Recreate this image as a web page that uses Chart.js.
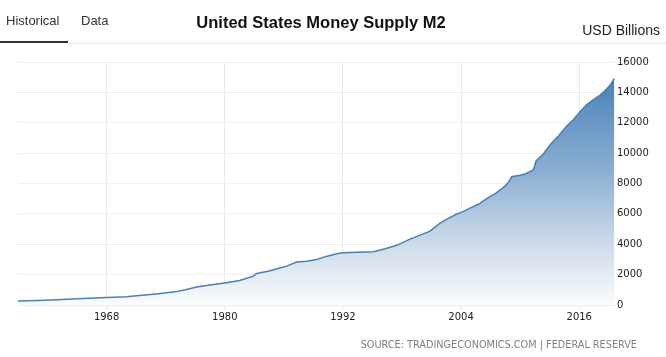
<!DOCTYPE html>
<html>
<head>
<meta charset="utf-8">
<script src="https://cdn.jsdelivr.net/npm/chart.js@4.4.1/dist/chart.umd.min.js"></script>
<style>
  html, body { margin: 0; padding: 0; background: #fff; }
  #wrap { position: relative; width: 666px; height: 357px; overflow: hidden; font-family: "Liberation Sans", Arial, sans-serif; }
  canvas { position: absolute; left: 0; top: 0; }
  .t { position: absolute; white-space: nowrap; }
</style>
</head>
<body>
<div id="wrap">
  <canvas id="c" width="666" height="357"></canvas>
  <div class="t" style="left:6px;top:13px;font-size:13px;line-height:16px;color:#333;">Historical</div>
  <div class="t" style="left:81px;top:13px;font-size:13px;line-height:16px;color:#333;">Data</div>
  <div style="position:absolute;left:0;top:41px;width:68px;height:2px;background:#333;"></div>
  <div style="position:absolute;left:68px;top:43px;width:598px;height:1px;background:#e3e3e3;"></div>
  <div class="t" style="left:0;width:642px;text-align:center;top:12px;font-size:16.5px;line-height:20px;font-weight:bold;color:#111;">United States Money Supply M2</div>
  <div class="t" style="right:6px;top:22px;font-size:14px;line-height:17px;color:#222;">USD Billions</div>
  <div class="t" style="right:29px;top:338px;font-size:10.8px;line-height:14px;color:#808080;font-family:'DejaVu Sans Condensed','DejaVu Sans',sans-serif;font-stretch:condensed;">SOURCE: TRADINGECONOMICS.COM | FEDERAL RESERVE</div>
</div>
<script>
// ---- data ----
const years = [1959.0, 1961.0, 1963.0, 1965.0, 1968.0, 1970.0, 1971.06, 1973.0, 1974.95, 1976.0,
  1977.15, 1978.5, 1980.0, 1981.5, 1982.9, 1983.24, 1984.5, 1985.5, 1986.29, 1987.3,
  1988.3, 1989.34, 1990.3, 1991.37, 1992.04, 1993.5, 1995.09, 1996.3, 1997.46, 1998.81,
  1999.83, 2000.8, 2001.86, 2002.7, 2003.56, 2004.2, 2004.91, 2005.8, 2006.6, 2007.5,
  2008.29, 2008.8, 2009.14, 2009.99, 2010.49, 2011.34, 2011.61, 2012.3, 2013.03, 2013.9,
  2014.73, 2015.4, 2016.08, 2016.76, 2017.4, 2018.11, 2018.6, 2019.13, 2019.56];
const m2Values = [265, 300, 350, 410, 500, 545, 605, 730, 865, 1000,
  1190, 1320, 1450, 1620, 1900, 2080, 2240, 2420, 2560, 2825,
  2880, 3000, 3200, 3380, 3445, 3470, 3510, 3700, 3930, 4340,
  4600, 4850, 5390, 5700, 5990, 6150, 6380, 6650, 7000, 7350,
  7730, 8060, 8450, 8540, 8630, 8890, 9480, 9900, 10530, 11150,
  11780, 12200, 12720, 13200, 13500, 13820, 14100, 14470, 14910];
const xTickYears = [1968, 1980, 1992, 2004, 2016];
const yTickValues = [0, 2000, 4000, 6000, 8000, 10000, 12000, 14000, 16000];

const points = years.map((y, i) => ({ x: y, y: m2Values[i] }));

function areaGradient(ctx) {
  const ca = ctx.chart.chartArea;
  if (!ca) return 'rgba(70,130,180,0.5)';
  const g = ctx.chart.ctx.createLinearGradient(0, ca.top, 0, ca.bottom);
  g.addColorStop(0, 'rgb(62,122,178)');
  g.addColorStop(0.45, 'rgb(140,175,211)');
  g.addColorStop(0.75, 'rgb(205,219,234)');
  g.addColorStop(1, 'rgb(250,251,253)');
  return g;
}

new Chart(document.getElementById('c'), {
  type: 'line',
  data: {
    datasets: [{
      data: points,
      borderColor: '#4a7fb7',
      borderWidth: 1.5,
      pointRadius: 0,
      tension: 0,
      fill: 'origin',
      backgroundColor: areaGradient
    }]
  },
  options: {
    responsive: false,
    animation: false,
    events: [],
    layout: { padding: { left: 18, top: 62, right: 0, bottom: 28 } },
    plugins: { legend: { display: false }, tooltip: { enabled: false } },
    scales: {
      x: {
        type: 'linear',
        min: 1959,
        max: 2019.63,
        afterBuildTicks: s => { s.ticks = xTickYears.map(v => ({ value: v })); },
        afterFit: s => { s.height = 24; },
        grid: { color: '#e8e8e8', lineWidth: 1, drawTicks: true, tickLength: 5, tickColor: '#e8e8e8' },
        border: { display: false },
        ticks: {
          font: { family: 'DejaVu Sans', size: 10 },
          color: '#222',
          padding: 1,
          maxRotation: 0,
          autoSkip: false,
          callback: v => String(v)
        }
      },
      y: {
        position: 'right',
        min: 0,
        max: 16000,
        afterBuildTicks: s => { s.ticks = yTickValues.map(v => ({ value: v })); },
        afterFit: s => { s.width = 51; },
        grid: { color: '#efefef', lineWidth: 1, drawTicks: false },
        border: { display: false },
        ticks: {
          font: { family: 'DejaVu Sans', size: 10 },
          color: '#222',
          padding: 2,
          callback: v => String(v)
        }
      }
    }
  }
});
</script>
</body>
</html>
